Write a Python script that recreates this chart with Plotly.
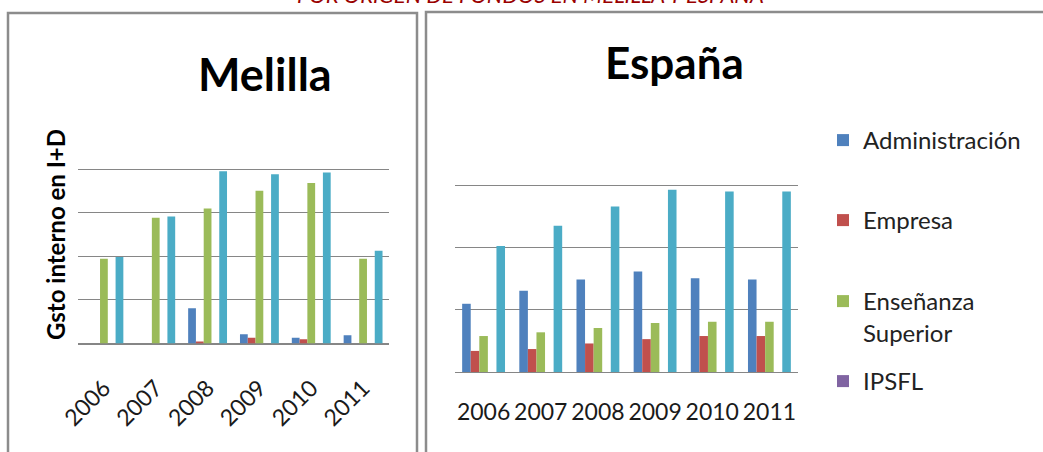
import plotly.graph_objects as go

W, H = 1043, 452

years = ["2006", "2007", "2008", "2009", "2010", "2011"]
series = ["Administración", "Empresa", "Enseñanza Superior", "IPSFL", "Total"]
legend_labels = ["Administración", "Empresa", "Enseñanza<br>Superior", "IPSFL"]
colors = ["#4F81BD", "#C0504D", "#9BBB59", "#8064A2", "#4BACC6"]

# Melilla (values read in gridline units)
mel_admin = [0, 0, 0.81, 0.21, 0.13, 0.19]
mel_empresa = [0, 0, 0.04, 0.13, 0.10, 0]
mel_ensenanza = [1.95, 2.89, 3.10, 3.51, 3.69, 1.95]
mel_ipsfl = [0, 0, 0, 0, 0, 0]
mel_total = [1.99, 2.92, 3.96, 3.89, 3.93, 2.13]

# España
esp_admin = [1.10, 1.31, 1.49, 1.62, 1.51, 1.49]
esp_empresa = [0.34, 0.37, 0.46, 0.53, 0.58, 0.58]
esp_ensenanza = [0.58, 0.64, 0.71, 0.79, 0.81, 0.81]
esp_ipsfl = [0, 0, 0, 0, 0, 0]
esp_total = [2.03, 2.36, 2.67, 2.94, 2.91, 2.91]

melilla = [mel_admin, mel_empresa, mel_ensenanza, mel_ipsfl, mel_total]
espana = [esp_admin, esp_empresa, esp_ensenanza, esp_ipsfl, esp_total]

FONT = "Lato"
GRID = "#868686"

def px(x):
    return x / W

def py(y):
    return (H - y) / H

fig = go.Figure()

legend_ids = ["legend", "legend2", "legend3", "legend4"]
for i, name in enumerate(series):
    fig.add_trace(go.Bar(
        x=years, y=melilla[i], name=legend_labels[i] if i < 4 else name,
        marker=dict(color=colors[i], line=dict(width=0)),
        xaxis="x", yaxis="y",
        showlegend=i < 4, legend=legend_ids[i] if i < 4 else "legend",
    ))
    fig.add_trace(go.Bar(
        x=years, y=espana[i], name=name,
        marker=dict(color=colors[i], line=dict(width=0)),
        xaxis="x2", yaxis="y2", showlegend=False,
    ))

axis_common = dict(showgrid=False, tickfont=dict(family=FONT, size=23, color="#1a1a1a"),
                   showline=True, linecolor=GRID, linewidth=1, ticks="",
                   automargin=False, fixedrange=True)
yaxis_common = dict(showgrid=True, gridcolor=GRID, gridwidth=1, dtick=1,
                    showticklabels=False, zeroline=True, zerolinecolor=GRID,
                    zerolinewidth=1, fixedrange=True, automargin=False)

legend_common = dict(font=dict(family=FONT, size=24, color="#222222"),
                     bgcolor="rgba(0,0,0,0)", borderwidth=0,
                     xref="paper", yref="paper", x=px(823), xanchor="left",
                     yanchor="top", valign="top")

fig.update_layout(
    width=W, height=H,
    margin=dict(l=0, r=0, t=0, b=0, autoexpand=False),
    paper_bgcolor="white", plot_bgcolor="white",
    barmode="group", bargap=0.25, bargroupgap=0,
    xaxis=dict(domain=[px(78), px(389)], anchor="y", tickangle=-45,
               ticklabelstandoff=21, **axis_common),
    yaxis=dict(domain=[py(343.5), py(125.5)], anchor="x", range=[0, 5.01],
               title=dict(text="<b>Gsto interno en I+D</b>",
                          font=dict(family=FONT, size=24, color="#000000"),
                          standoff=4),
               **yaxis_common),
    xaxis2=dict(domain=[px(455), px(798)], anchor="y2",
                ticklabelstandoff=19, **axis_common),
    yaxis2=dict(domain=[py(372), py(123.3)], anchor="x2", range=[0, 4.01],
                **yaxis_common),
    legend=dict(y=py(118), **legend_common),
    legend2=dict(y=py(198), **legend_common),
    legend3=dict(y=py(279), **legend_common),
    legend4=dict(y=py(359), **legend_common),
    shapes=[
        dict(type="rect", xref="paper", yref="paper",
             x0=px(8), x1=px(417), y0=py(470), y1=py(13),
             line=dict(color="#8c8c8c", width=2.5), layer="below"),
        dict(type="rect", xref="paper", yref="paper",
             x0=px(426), x1=px(1060), y0=py(470), y1=py(12),
             line=dict(color="#8c8c8c", width=2.5), layer="below"),
    ],
    annotations=[
        dict(text="<i>POR ORIGEN DE FONDOS EN MELILLA Y ESPAÑA</i>",
             xref="paper", yref="paper", x=px(530), y=1, xanchor="center",
             yanchor="bottom", yshift=-10, showarrow=False,
             font=dict(family=FONT, size=22, color="#990000")),
        dict(text="<b>Melilla</b>", xref="paper", yref="paper",
             x=px(265), y=py(74), xanchor="center", yanchor="middle",
             showarrow=False, font=dict(family=FONT, size=45, color="#000000")),
        dict(text="<b>España</b>", xref="paper", yref="paper",
             x=px(674), y=py(62), xanchor="center", yanchor="middle",
             showarrow=False, font=dict(family=FONT, size=44, color="#000000")),
    ],
)

fig.write_html("out.html", config={"displayModeBar": False},
               post_script="document.body.style.margin='0';document.body.style.padding='0';")
